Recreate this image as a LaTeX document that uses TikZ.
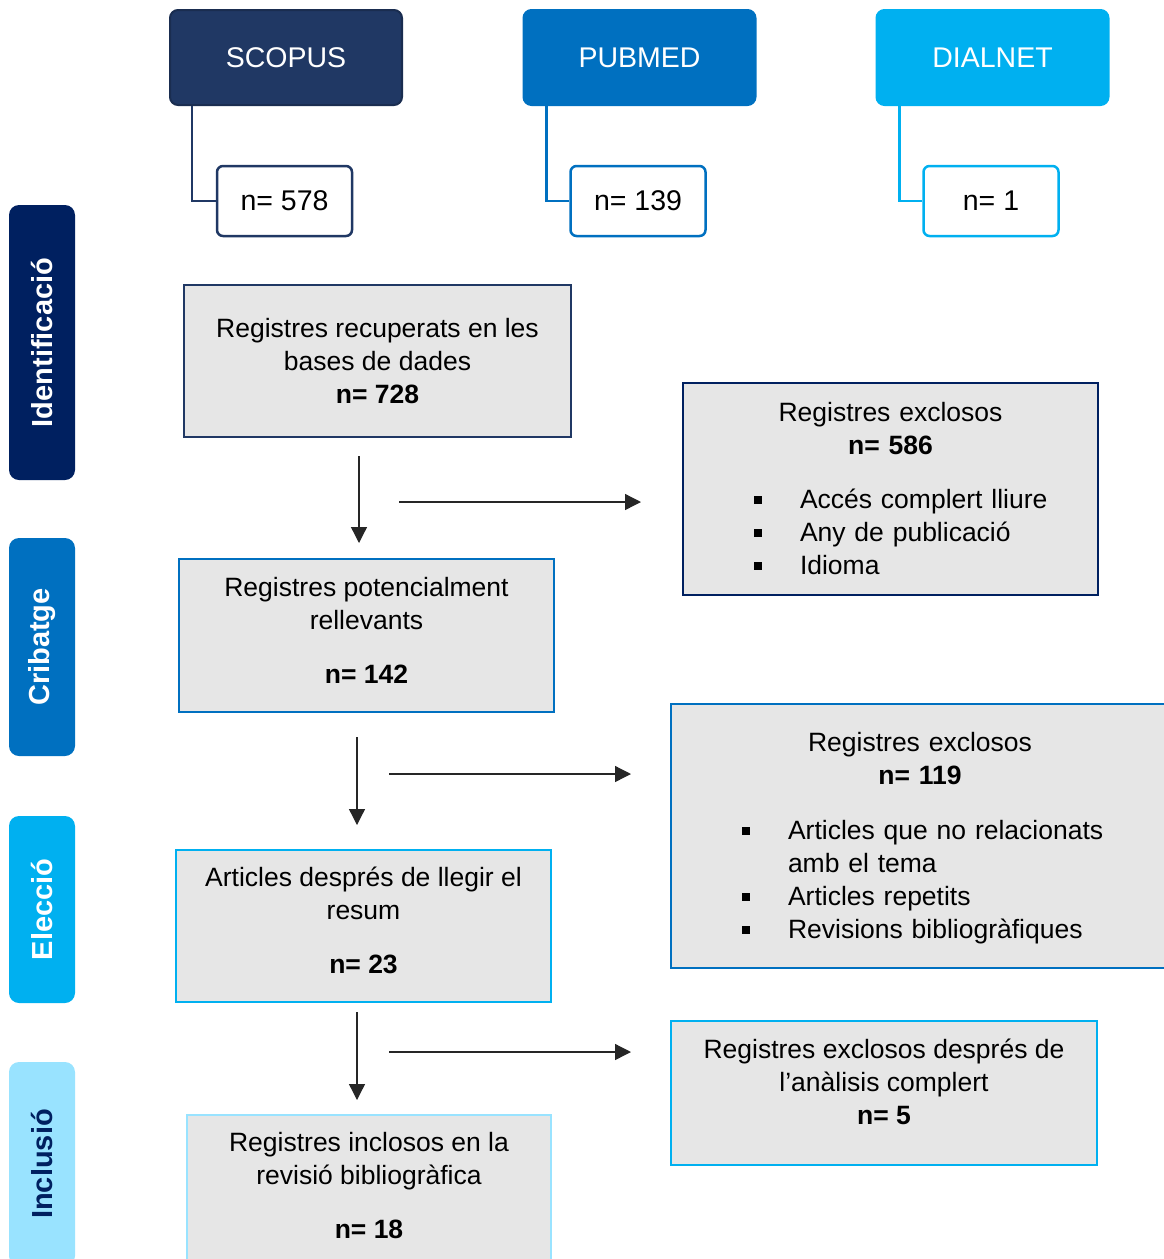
\documentclass[tikz,border=0pt]{standalone}
\usepackage{fontspec}
\setmainfont{Liberation Sans}
\usetikzlibrary{positioning}
\usetikzlibrary{arrows.meta}
\definecolor{navyd}{HTML}{002060}
\definecolor{navy}{HTML}{203864}
\definecolor{bluem}{HTML}{0070C0}
\definecolor{bluec}{HTML}{00B0F0}
\definecolor{bluel}{HTML}{99E3FF}
\definecolor{greyf}{HTML}{E6E6E6}
\setlength{\parindent}{0pt}
\newcommand{\blt}{\hspace*{71pt}\rule[5pt]{8pt}{8pt}\hspace{38pt}}
\newcommand{\lowstrut}[1]{\rule[-#1]{0pt}{#1}}
\tikzset{
    srcnode/.style = {rectangle, rounded corners=8pt, line width=2pt, minimum width=232pt, minimum height=95pt, font=\fontsize{28.5}{33}\selectfont, text=white},
    cntnode/.style = {rectangle, rounded corners=6pt, line width=2.5pt, fill=white, minimum width=135pt, minimum height=70pt, font=\fontsize{28.5}{33}\selectfont, text=black},
    stagenode/.style = {rectangle, rounded corners=10pt, rotate=90, minimum height=66pt, font=\fontsize{29}{33}\selectfont\bfseries, text=white},
    mainnode/.style = {rectangle, line width=2.5pt, fill=greyf, align=center, font=\fontsize{26.5}{33}\selectfont},
    exclnode/.style = {rectangle, line width=2.5pt, fill=greyf, inner sep=0pt, font=\fontsize{26.5}{33}\selectfont},
    srcline/.style = {-, line width=2.5pt},
    arrowb/.style = {-{Triangle[length=16pt,width=16pt]}, line width=1.3pt, black!85}
}
\begin{document}
\begin{tikzpicture}[x=1pt, y=-1pt]
  \useasboundingbox (0,0) rectangle (1163,1259);
  % bases de dades
  \node[srcnode, fill=navy, draw=navy!80!black] (scopus) at (286,57.5) {SCOPUS};
  \node[srcnode, fill=bluem, draw=bluem] (pubmed) at (639.5,57.5) {PUBMED};
  \node[srcnode, fill=bluec, draw=bluec] (dialnet) at (992.5,57.5) {DIALNET};
  \node[cntnode, draw=navy] (nscopus) at (284.5,201) {n= 578};
  \node[cntnode, draw=bluem] (npubmed) at (638,201) {n= 139};
  \node[cntnode, draw=bluec] (ndialnet) at (991,201) {n= 1};
  \draw[srcline, navy] ([xshift=23pt]scopus.south west) |- (nscopus.west);
  \draw[srcline, bluem] ([xshift=24pt]pubmed.south west) |- (npubmed.west);
  \draw[srcline, bluec] ([xshift=24pt]dialnet.south west) |- (ndialnet.west);
  % fases
  \node[stagenode, fill=navyd, minimum width=275pt] (ident) at (42,342.5) {Identificació};
  \node[stagenode, fill=bluem, minimum width=218pt] (crib) at (42,647) {Cribatge};
  \node[stagenode, fill=bluec, minimum width=187pt] (elec) at (42,909.5) {Elecció};
  \node[stagenode, fill=bluel, text=navyd, minimum width=204pt] (incl) at (42,1164) {Inclusió};
  % caixes principals
  \node[mainnode, draw=navy, minimum width=387pt, minimum height=152pt] (recup) at (377.5,361)
    {Registres recuperats en les\\ bases de dades\\ \textbf{n= 728}};
  \node[mainnode, draw=bluem, minimum width=375pt, minimum height=153pt] (potenc) at (366.5,635.5)
    {Registres potencialment\\ rellevants\\[21pt] \textbf{n= 142}\lowstrut{11pt}};
  \node[mainnode, draw=bluec, minimum width=375pt, minimum height=152pt] (resum) at (363.5,926)
    {Articles després de llegir el\\ resum\\[21pt] \textbf{n= 23}\lowstrut{11pt}};
  \node[mainnode, draw=bluel, minimum width=364pt, minimum height=153pt] (inclos) at (369,1191.5)
    {Registres inclosos en la\\ revisió bibliogràfica\\[21pt] \textbf{n= 18}\lowstrut{12pt}};
  % exclosos
  \node[exclnode, draw=navyd, text width=415pt, minimum height=212pt] (excl1) at (890.5,489)
    {\centering Registres exclosos\\ \textbf{n= 586}\par\vspace{21pt}\raggedright
     \blt Accés complert lliure\\ \blt Any de publicació\\ \blt Idioma\par};
  \node[exclnode, draw=bluem, text width=498pt, minimum height=264pt] (excl2) at (920,836)
    {\centering\rule{0pt}{24pt}Registres exclosos\\ \textbf{n= 119}\par\vspace{22pt}\raggedright
     \blt Articles que no relacionats\\ \hspace*{117pt}amb el tema\\
     \blt Articles repetits\\ \blt Revisions bibliogràfiques\par};
  \node[mainnode, draw=bluec, minimum width=426pt, minimum height=144pt] (excl3) at (884,1093)
    {Registres exclosos després de\\ l’anàlisis complert\\ \textbf{n= 5}\lowstrut{23pt}};
  % fletxes
  \coordinate (v1a) at (359,456); \coordinate (v1b) at (359,543);
  \coordinate (h1a) at (399,502); \coordinate (h1b) at (641,502);
  \coordinate (v2a) at (357,737); \coordinate (v2b) at (357,825);
  \coordinate (h2a) at (389,774); \coordinate (h2b) at (631,774);
  \coordinate (v3a) at (357,1012); \coordinate (v3b) at (357,1100);
  \coordinate (h3a) at (389,1052); \coordinate (h3b) at (631,1052);
  \draw[arrowb] (v1a) -- (v1b);
  \draw[arrowb] (h1a) -- (h1b);
  \draw[arrowb] (v2a) -- (v2b);
  \draw[arrowb] (h2a) -- (h2b);
  \draw[arrowb] (v3a) -- (v3b);
  \draw[arrowb] (h3a) -- (h3b);
\end{tikzpicture}
\end{document}
